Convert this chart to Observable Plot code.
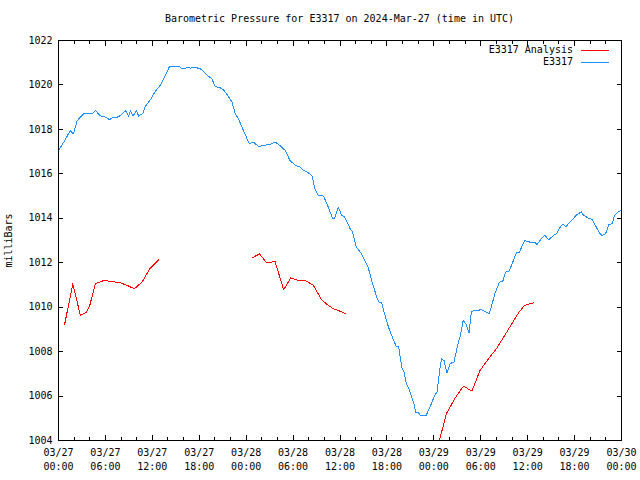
<!DOCTYPE html>
<html>
<head>
<meta charset="utf-8">
<script src="https://cdn.jsdelivr.net/npm/d3@7"></script>
<script src="https://cdn.jsdelivr.net/npm/@observablehq/plot@0.6"></script>
<style>
  body { margin: 0; background: #fff; }
  #wrap { position: relative; width: 640px; height: 480px; font-family: "DejaVu Sans Mono", monospace; font-size: 10px; color: #000; }
  #title { position: absolute; left: 0; top: 13px; width: 679px; text-align: center; line-height: 12px; white-space: pre; }
  .leg { position: absolute; right: 67px; line-height: 12px; text-align: right; white-space: pre; }
  .legline { position: absolute; left: 581px; width: 28px; height: 1px; }
  #chart svg * { shape-rendering: crispEdges; }
</style>
</head>
<body>
<div id="wrap">
  <div id="chart"></div>
  <div id="title"></div>
  <div id="legend"></div>
</div>
<script>
// Title / legend text
const titleText = "Barometric Pressure for E3317 on 2024-Mar-27 (time in UTC)";
const seriesNames = ["E3317 Analysis", "E3317"];
const seriesColors = ["#ff0000", "#1e90ff"];
const yLabel = "milliBars";

// Hours after 2024-03-27 00:00 UTC
const blueHours = [0.1, 0.8, 1.5, 1.9, 2.4, 3.2, 4.3, 4.7, 5.4, 5.8, 6.55, 6.85, 7.5, 7.8, 8.13, 8.55, 8.98, 9.2, 9.53, 9.96,
  10.26, 10.8, 11.1, 11.75, 12.38, 13.0, 13.66, 14.2, 15.5, 15.8, 16.2, 16.5, 16.9, 17.3, 17.7, 18.1, 18.35, 18.77, 19.2, 19.6,
  20.04, 20.7, 21.1, 21.5, 22.2, 22.6, 23.0, 23.65, 24.4, 24.9, 25.6, 26.2, 27.1, 27.7, 28.3, 29.0, 29.6, 30.3, 30.9, 31.3,
  31.75, 32.4, 32.8, 33.2, 33.9, 34.5, 35.07, 35.3, 35.8, 36.2, 36.6, 37.3, 37.6, 38.1, 38.8, 39.2, 39.6, 40.05, 40.7, 41.0,
  41.3, 41.7, 42.2, 42.6, 43.2, 43.5, 43.9, 44.2, 44.5, 44.9, 45.4, 45.7, 46.0, 46.3, 47.0, 47.5, 48.1, 48.4, 48.8, 48.98,
  49.3, 49.7, 50.1, 50.55, 51.1, 51.4, 51.75, 52.1, 52.5, 52.8, 53.1, 54.1, 54.5, 55.1, 55.8, 56.4, 56.8, 57.2, 57.6, 58.1,
  58.6, 58.95, 59.6, 60.26, 60.9, 61.2, 61.75, 62.2, 62.7, 63.3, 63.7, 64.2, 64.5, 64.9, 65.6, 66.2, 66.85, 67.15, 67.7, 68.3,
  68.6, 69.2, 69.5, 69.95, 70.4, 70.8, 71.1, 71.6, 71.95];
const bluePressure = [1017.1, 1017.5, 1017.95, 1017.8, 1018.4, 1018.7, 1018.7, 1018.85, 1018.6, 1018.6, 1018.43, 1018.52, 1018.55, 1018.6, 1018.7, 1018.85, 1018.6, 1018.83, 1018.6, 1018.83,
  1018.6, 1018.73, 1019.03, 1019.33, 1019.72, 1019.98, 1020.43, 1020.83, 1020.83, 1020.72, 1020.75, 1020.8, 1020.75, 1020.8, 1020.77, 1020.73, 1020.68, 1020.53, 1020.38, 1020.28,
  1019.93, 1019.87, 1019.78, 1019.6, 1019.23, 1018.7, 1018.48, 1017.95, 1017.35, 1017.43, 1017.23, 1017.28, 1017.32, 1017.43, 1017.28, 1017.05, 1016.6, 1016.38, 1016.3, 1016.15,
  1016.1, 1015.93, 1015.33, 1015.03, 1015.0, 1014.5, 1013.98, 1014.0, 1014.5, 1014.13, 1014.05, 1013.53, 1013.38, 1012.7, 1012.37, 1012.07, 1011.8, 1011.2, 1010.45, 1010.22,
  1010.22, 1009.7, 1009.1, 1008.73, 1008.23, 1008.23, 1007.3, 1007.07, 1006.55, 1006.25, 1005.72, 1005.27, 1005.27, 1005.12, 1005.12, 1005.5, 1006.03, 1006.18, 1007.3, 1007.68,
  1007.6, 1007.03, 1007.48, 1007.5, 1008.35, 1008.73, 1009.4, 1009.25, 1008.83, 1009.78, 1009.85, 1009.88, 1009.82, 1009.7, 1010.6, 1011.13, 1011.15, 1011.58, 1011.6, 1012.03,
  1012.48, 1012.48, 1013.0, 1012.93, 1012.93, 1012.82, 1013.08, 1013.23, 1013.03, 1013.23, 1013.3, 1013.63, 1013.72, 1013.63, 1013.9, 1014.13, 1014.3, 1014.13, 1014.02, 1013.93,
  1013.72, 1013.33, 1013.23, 1013.3, 1013.72, 1013.75, 1014.13, 1014.3, 1014.35];

const redHours = [0.77, 1.83, 2.8, 3.57, 4.0, 4.7, 5.8, 7.3, 7.9, 8.77, 9.7, 10.7, 11.66, 12.8,
  24.8, 25.7, 26.6, 27.7, 28.8, 29.7, 30.7, 31.5, 32.6, 33.66, 34.5, 35.15, 36.0, 36.7,
  48.0, 48.77, 49.6, 50.7, 51.8, 52.87, 53.9, 55.0, 56.0, 57.07, 58.1, 58.9, 59.6, 60.26, 60.77];
const redPressure = [1009.2, 1011.05, 1009.63, 1009.78, 1010.08, 1011.05, 1011.2, 1011.13, 1011.1, 1010.98, 1010.83, 1011.13, 1011.73, 1012.13,
  1012.22, 1012.4, 1012.0, 1012.05, 1010.78, 1011.32, 1011.2, 1011.22, 1010.98, 1010.33, 1010.08, 1009.93, 1009.82, 1009.7,
  1003.02, 1004.07, 1005.2, 1005.9, 1006.45, 1006.22, 1007.15, 1007.68, 1008.13, 1008.73, 1009.33, 1009.78, 1010.08, 1010.15, 1010.2];
const redRun = [1,1,1,1,1,1,1,1,1,1,1,1,1,1, 2,2,2,2,2,2,2,2,2,2,2,2,2,2, 3,3,3,3,3,3,3,3,3,3,3,3,3,3,3];

const yTicks = [1004, 1006, 1008, 1010, 1012, 1014, 1016, 1018, 1020, 1022];
const startHour = 0, endHour = 72, majorStep = 6, minorStep = 2;

const t0 = Date.UTC(2024, 2, 27);
const toDate = h => new Date(t0 + h * 3600e3);

const blue = blueHours.map((h, i) => ({time: toDate(h), p: bluePressure[i]}));
const red = redHours.map((h, i) => ({time: toDate(h), p: redPressure[i], run: redRun[i]}));

const xMajor = d3.utcHour.every(majorStep).range(toDate(startHour), toDate(endHour + 0.01));
const xMinor = d3.utcHour.every(minorStep).range(toDate(startHour), toDate(endHour + 0.01));
const fmt = d3.utcFormat("%m/%d\n%H:%M");

const chart = Plot.plot({
  width: 640,
  height: 480,
  marginTop: 40,
  marginBottom: 40,
  marginLeft: 58,
  marginRight: 19,
  style: {fontFamily: "'DejaVu Sans Mono', monospace", fontSize: "10px", background: "white", color: "black"},
  x: {type: "utc", domain: [toDate(startHour), toDate(endHour)]},
  y: {domain: [1004, 1022]},
  marks: [
    Plot.line(red, {x: "time", y: "p", z: "run", stroke: seriesColors[0], strokeWidth: 1, clip: true}),
    Plot.line(blue, {x: "time", y: "p", stroke: seriesColors[1], strokeWidth: 1, clip: true}),
    Plot.frame({stroke: "black"}),
    // inward ticks
    Plot.axisX(xMinor, {anchor: "bottom", tickSize: 3, dy: -3, fill: null, label: null}),
    Plot.axisX(xMinor, {anchor: "top", tickSize: 3, dy: 3, fill: null, label: null}),
    Plot.axisX(xMajor, {anchor: "bottom", tickSize: 5, dy: -5, fill: null, label: null}),
    Plot.axisX(xMajor, {anchor: "top", tickSize: 5, dy: 5, fill: null, label: null}),
    Plot.axisY(yTicks, {anchor: "left", tickSize: 5, dx: 5, fill: null, label: null}),
    Plot.axisY(yTicks, {anchor: "right", tickSize: 5, dx: -5, fill: null, label: null}),
    // labels
    Plot.axisX(xMajor, {anchor: "bottom", tickSize: 0, tickPadding: 6, tickFormat: fmt, lineHeight: 1.4, label: null}),
    Plot.axisY(yTicks, {anchor: "left", tickSize: 0, tickPadding: 6, tickFormat: d => String(d),
      label: yLabel, labelAnchor: "center", labelArrow: "none", labelOffset: 54})
  ]
});
document.getElementById("chart").appendChild(chart);

document.getElementById("title").textContent = titleText;
const legend = document.getElementById("legend");
seriesNames.forEach((name, i) => {
  const t = document.createElement("div");
  t.className = "leg";
  t.style.top = (44 + 12 * i) + "px";
  t.textContent = name;
  legend.appendChild(t);
  const l = document.createElement("div");
  l.className = "legline";
  l.style.top = (50 + 12 * i) + "px";
  l.style.background = seriesColors[i];
  legend.appendChild(l);
});
</script>
</body>
</html>
